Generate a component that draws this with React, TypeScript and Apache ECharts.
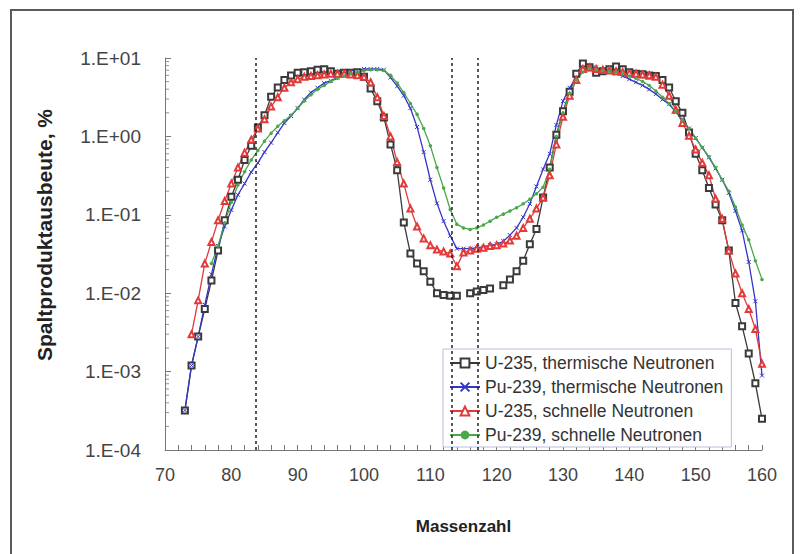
import React, { useEffect, useRef } from "react";
import * as echarts from "echarts";

// Mass numbers A = 73 ... 160
const massNumbers: number[] = [];
for (let a = 73; a <= 160; a++) massNumbers.push(a);

// Fission product yields in %, index 0 = A 73
const u235Thermal: (number | null)[] = [
  3.2e-4, 1.2e-3, 2.8e-3, 6.3e-3, 0.0145, 0.035, 0.085, 0.17, 0.28, 0.5, // 73-82
  0.76, 1.3, 1.86, 3.2, 4.2, 5.25, 6.0, 6.5, 6.6, 6.8, // 83-92
  7.1, 7.2, 6.8, 6.3, 6.5, 6.5, 6.6, 5.75, 4.07, 2.8, // 93-102
  1.74, 0.79, 0.37, 0.08, 0.032, 0.024, 0.019, 0.014, 0.01, 0.0095, // 103-112
  0.0093, 0.0093, null, 0.01, 0.0105, 0.011, 0.0115, null, 0.0126, 0.015, // 113-122
  0.019, 0.026, 0.042, 0.066, 0.166, 0.4, 1.05, 2.1, 3.7, 6.3, // 123-132
  8.5, 7.6, 6.5, 6.8, 7.2, 7.8, 7.2, 6.6, 6.3, 6.2, // 133-142
  6.0, 5.9, 5.25, 4.2, 2.8, 2.0, 1.12, 0.6, 0.37, 0.22, // 143-152
  0.135, 0.085, 0.035, 0.0075, 0.0038, 0.0017, 7.1e-4, 2.5e-4, // 153-160
];

const pu239Thermal: (number | null)[] = [
  3.2e-4, 1.2e-3, 2.8e-3, 7.1e-3, 0.0174, 0.04, 0.071, 0.115, 0.18, 0.25, // 73-82
  0.35, 0.46, 0.63, 0.83, 1.12, 1.48, 1.82, 2.29, 2.95, 3.63, // 83-92
  4.17, 4.79, 5.13, 5.62, 6.17, 6.61, 6.92, 7.24, 7.24, 7.24, // 93-102
  7.08, 5.62, 4.37, 3.31, 2.29, 1.32, 0.63, 0.28, 0.14, 0.083, // 103-112
  0.054, 0.037, 0.037, 0.037, 0.038, 0.039, 0.041, 0.042, 0.046, 0.055, // 113-122
  0.068, 0.093, 0.138, 0.23, 0.38, 0.6, 1.4, 2.82, 4.17, 5.62, // 123-132
  6.92, 7.76, 7.59, 7.08, 6.61, 6.31, 5.89, 5.37, 4.9, 4.47, // 133-142
  3.98, 3.47, 2.95, 2.57, 2.04, 1.62, 1.26, 0.95, 0.72, 0.54, // 143-152
  0.39, 0.28, 0.19, 0.112, 0.063, 0.025, 0.0079, 8.9e-4, // 153-160
];

const u235Fast: (number | null)[] = [
  null, 3.0e-3, 8.1e-3, 0.024, 0.045, 0.085, 0.15, 0.25, 0.4, 0.62, // 73-82
  0.91, 1.26, 1.66, 2.4, 3.16, 4.17, 4.9, 5.37, 5.75, 5.89, // 83-92
  6.03, 6.17, 6.31, 6.31, 6.31, 6.17, 6.03, 5.75, 4.9, 3.16, // 93-102
  1.82, 1.0, 0.47, 0.25, 0.12, 0.071, 0.05, 0.041, 0.036, 0.034, // 103-112
  0.032, 0.022, 0.033, 0.035, 0.037, 0.038, 0.04, 0.041, 0.043, 0.047, // 113-122
  0.054, 0.068, 0.089, 0.12, 0.166, 0.32, 0.79, 1.78, 3.31, 5.25, // 123-132
  7.24, 7.59, 7.24, 7.08, 6.92, 6.76, 6.61, 6.46, 6.31, 6.17, // 133-142
  6.03, 5.75, 4.57, 3.31, 2.19, 1.48, 1.02, 0.68, 0.46, 0.32, // 143-152
  0.16, 0.089, 0.035, 0.0178, 0.01, 0.0063, 0.0035, 0.00126, // 153-160
];

const pu239Fast: (number | null)[] = [
  null, null, null, null, 0.024, 0.04, 0.079, 0.145, 0.24, 0.355, // 73-82
  0.5, 0.66, 0.87, 1.1, 1.35, 1.58, 1.86, 2.29, 2.82, 3.39, // 83-92
  3.98, 4.47, 5.01, 5.5, 5.89, 6.31, 6.61, 6.92, 7.08, 7.08, // 93-102
  6.92, 6.03, 4.79, 3.63, 2.63, 1.91, 1.26, 0.76, 0.4, 0.22, // 103-112
  0.117, 0.076, 0.068, 0.065, 0.068, 0.074, 0.083, 0.093, 0.102, 0.112, // 113-122
  0.123, 0.138, 0.158, 0.186, 0.224, 0.38, 1.0, 2.0, 3.55, 5.25, // 123-132
  6.61, 7.41, 7.08, 6.92, 6.76, 6.61, 6.31, 5.89, 5.5, 5.01, // 133-142
  4.47, 3.8, 3.16, 2.63, 2.09, 1.62, 1.26, 0.95, 0.72, 0.55, // 143-152
  0.4, 0.28, 0.2, 0.126, 0.074, 0.048, 0.026, 0.015, // 153-160
];

const seriesNames = [
  "U-235, thermische Neutronen",
  "Pu-239, thermische Neutronen",
  "U-235, schnelle Neutronen",
  "Pu-239, schnelle Neutronen",
];

const markerMasses = [83.7, 113.2, 117.2];

const xTicks = { min: 70, max: 160, interval: 10 };
const yRange = { min: 1e-4, max: 10 };
const yMinorMantissas = [2, 3, 4, 5, 6, 7, 8, 9];
const yMinorDecades = [1e-4, 1e-3, 1e-2, 1e-1, 1];

const FONT = "'Liberation Sans', Arial, sans-serif";

function pairs(vals: (number | null)[]) {
  return massNumbers.map((a, i) => [a, vals[i] === null ? null : vals[i]]);
}

export default function App() {
  const ref = useRef<HTMLDivElement>(null);
  useEffect(() => {
    if (!ref.current) return;
    const chart = echarts.init(ref.current, undefined, { renderer: "svg" });

    const minorTickData: number[][] = [];
    yMinorDecades.forEach((d) =>
      yMinorMantissas.forEach((m) => minorTickData.push([xTicks.min, m * d]))
    );

    const lineBase = {
      type: "line" as const,
      showAllSymbol: true,
      connectNulls: false,
      clip: false,
      z: 3,
    };

    chart.setOption({
      animation: false,
      backgroundColor: "#ffffff",
      grid: { left: 165, right: 41, top: 58, bottom: 104, containLabel: false },
      legend: {
        data: seriesNames,
        orient: "vertical",
        left: 443,
        top: 349,
        backgroundColor: "#ffffff",
        borderColor: "#b8c0dc",
        borderWidth: 1,
        borderRadius: 0,
        padding: [5, 8, 3, 6],
        itemGap: 6,
        itemWidth: 30,
        itemHeight: 11,
        textStyle: { fontFamily: FONT, fontSize: 17.5, color: "#333" },
      },
      xAxis: {
        type: "value",
        min: xTicks.min,
        max: xTicks.max,
        interval: xTicks.interval,
        name: "Massenzahl",
        nameLocation: "middle",
        nameGap: 68,
        nameTextStyle: { fontFamily: FONT, fontSize: 17, fontWeight: "bold", color: "#222" },
        axisLine: { show: true, lineStyle: { color: "#777", width: 1 } },
        axisTick: { show: true, inside: true, length: 5, lineStyle: { color: "#777" } },
        minorTick: { show: true, splitNumber: 5, length: 5, lineStyle: { color: "#777" } },
        splitLine: { show: false },
        axisLabel: { fontFamily: FONT, fontSize: 18, color: "#444", margin: 16 },
      },
      yAxis: {
        type: "log",
        logBase: 10,
        min: yRange.min,
        max: yRange.max,
        axisLine: { show: true, lineStyle: { color: "#777", width: 1 } },
        axisTick: { show: true, inside: true, length: 6, lineStyle: { color: "#777" } },
        splitLine: { show: false },
        axisLabel: {
          fontFamily: FONT,
          fontSize: 19,
          color: "#444",
          margin: 24,
          formatter: (v: number) => {
            const e = Math.round(Math.log10(v));
            return "1.E" + (e >= 0 ? "+" : "-") + String(Math.abs(e)).padStart(2, "0");
          },
        },
      },
      graphic: [
        {
          type: "rect",
          shape: { x: 11, y: 10, width: 782, height: 570 },
          style: { fill: "none", stroke: "#5a5a5a", lineWidth: 2 },
          silent: true,
        },
        {
          type: "text",
          x: 44,
          y: 235,
          rotation: Math.PI / 2,
          style: {
            text: "Spaltproduktausbeute, %",
            font: `bold 21px ${FONT}`,
            fill: "#222",
            align: "center",
            verticalAlign: "middle",
          },
          silent: true,
        },
      ],
      series: [
        {
          ...lineBase,
          name: seriesNames[0],
          data: pairs(u235Thermal),
          symbol: "emptyRect",
          symbolSize: 6,
          lineStyle: { color: "#3a3a3a", width: 1.3 },
          itemStyle: { color: "#3a3a3a", borderColor: "#555", borderWidth: 1 },
          markLine: {
            silent: true,
            symbol: ["none", "none"],
            label: { show: false },
            lineStyle: { color: "#222", type: [3, 3], width: 1.5 },
            data: markerMasses.map((m) => ({ xAxis: m })),
          },
        },
        {
          ...lineBase,
          name: seriesNames[1],
          data: pairs(pu239Thermal),
          symbol: "path://M0,0L10,10M0,10L10,0",
          symbolSize: 4,
          lineStyle: { color: "#3434c8", width: 1.3 },
          itemStyle: { color: "#3434c8", borderColor: "#3434c8", borderWidth: 1 },
        },
        {
          ...lineBase,
          name: seriesNames[2],
          data: pairs(u235Fast),
          symbol: "emptyTriangle",
          symbolSize: 6,
          lineStyle: { color: "#e23a3a", width: 1.3 },
          itemStyle: { color: "#e23a3a", borderColor: "#e86060", borderWidth: 1 },
        },
        {
          ...lineBase,
          name: seriesNames[3],
          data: pairs(pu239Fast),
          symbol: "circle",
          symbolSize: 3.5,
          lineStyle: { color: "#4aa84a", width: 1.3 },
          itemStyle: { color: "#4aa84a" },
        },
        {
          type: "scatter",
          name: "minorTicks",
          data: minorTickData,
          symbol: "rect",
          symbolSize: [4, 1],
          symbolOffset: [2, 0],
          itemStyle: { color: "#777" },
          silent: true,
          clip: false,
          z: 1,
        },
      ],
    });
    return () => chart.dispose();
  }, []);
  return (
    <div
      ref={ref}
      style={{ position: "fixed", left: 0, top: 0, width: 803, height: 554, background: "#fff" }}
    />
  );
}
